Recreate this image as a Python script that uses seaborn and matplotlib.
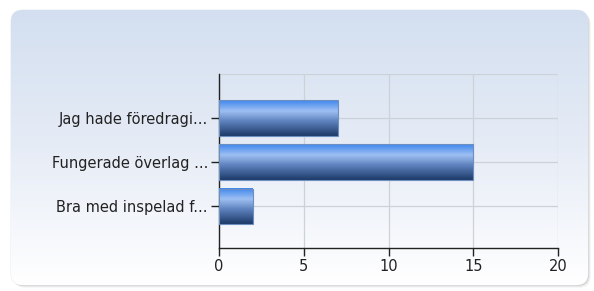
import matplotlib
matplotlib.use("Agg")
import matplotlib.pyplot as plt
import numpy as np
import pandas as pd
import seaborn as sns
from matplotlib.colors import LinearSegmentedColormap
from matplotlib.patches import FancyBboxPatch

categories = ["Jag hade föredragi...", "Fungerade överlag ...", "Bra med inspelad f..."]
values = [7, 15, 2]
x_ticks = [0, 5, 10, 15, 20]

df = pd.DataFrame({"label": categories, "count": values})

sns.set_style("white")
plt.rcParams["font.family"] = ["DejaVu Sans"]

fig = plt.figure(figsize=(5.94, 2.91), dpi=100)
W, H = 594, 291

# rounded panel with soft shadow (right/bottom) and vertical gradient
bg = fig.add_axes([0, 0, 1, 1], zorder=-10)
bg.set_xlim(0, W)
bg.set_ylim(H, 0)
bg.axis("off")
for i, a in enumerate([0.10, 0.06, 0.03]):
    sh = FancyBboxPatch((12 + i, 11 + i), 577, 275, boxstyle="round,pad=0,rounding_size=12",
                        fc=(0, 0, 0, a), ec="none", zorder=1)
    bg.add_patch(sh)
panel = FancyBboxPatch((11, 10), 577, 275, boxstyle="round,pad=0,rounding_size=12",
                       fc="white", ec="#e4eaf2", lw=0.6, zorder=2)
bg.add_patch(panel)
grad = np.linspace(0, 1, 256).reshape(-1, 1)
bg_cmap = LinearSegmentedColormap.from_list("bg", ["#d3dff0", "#e6ecf6", "#ffffff"])
im = bg.imshow(grad, cmap=bg_cmap, extent=(11, 588, 285, 10), aspect="auto", zorder=3)
im.set_clip_path(panel)

ax = fig.add_axes([219 / W, 1 - 248 / H, (558 - 219) / W, (248 - 74) / H])
ax.patch.set_alpha(0)
sns.barplot(data=df, y="label", x="count", orient="h", width=0.8,
            color="#4a7fd0", ax=ax, zorder=2)

ax.set_xlim(0, 20)
ax.set_ylim(2.95, -1.0)
ax.set_xticks(x_ticks)
ax.set_xlabel("")
ax.set_ylabel("")
ax.grid(True, color="#cdd1d8", lw=0.9, zorder=0)
ax.set_axisbelow(True)

for s in ["top", "right"]:
    ax.spines[s].set_visible(False)
ax.spines["left"].set_color("#222222")
ax.spines["bottom"].set_color("#222222")
ax.spines["left"].set_linewidth(1)
ax.spines["bottom"].set_linewidth(1)
ax.axhline(-1.0, color="#cdd1d8", lw=0.9, zorder=0)
ax.tick_params(axis="both", length=6, width=1, color="#222222", labelsize=10.5,
               labelcolor="#222222", direction="out", pad=2, left=True, bottom=True)

# glossy gradient for each bar
bar_cmap = LinearSegmentedColormap.from_list(
    "bar", [(0, "#3f86ee"), (0.3, "#9dbff2"), (0.6, "#5c80bc"), (1, "#1d3a68")])
g = np.linspace(0, 1, 128).reshape(-1, 1)
for p in ax.patches:
    x0, y0, w, h = p.get_x(), p.get_y(), p.get_width(), p.get_height()
    ax.imshow(g, cmap=bar_cmap, extent=(x0, x0 + w, y0 + h, y0), aspect="auto",
              zorder=3, interpolation="bilinear")
    p.set_facecolor("none")
    p.set_edgecolor("#6d8fbf")
    p.set_linewidth(0.8)
    p.set_zorder(4)
ax.set_xlim(0, 20)
ax.set_ylim(2.95, -1.0)

fig.savefig("out.png", dpi=100)
